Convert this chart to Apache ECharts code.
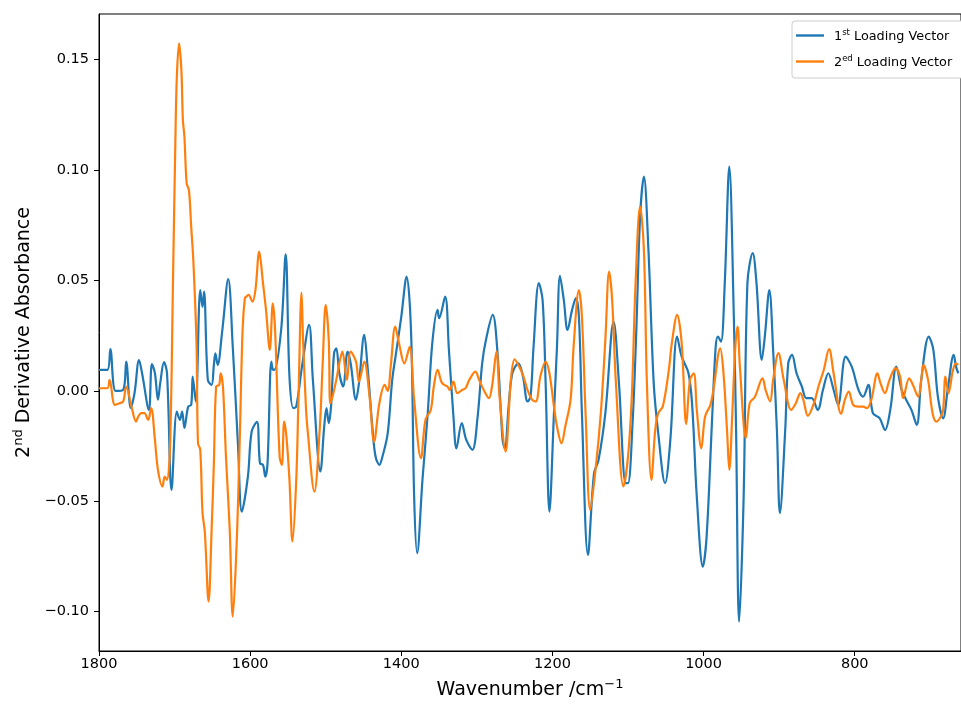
<!DOCTYPE html>
<html>
<head>
<meta charset="utf-8">
<title>Loading vectors</title>
<script src="https://cdn.jsdelivr.net/npm/echarts@6/dist/echarts.min.js"></script>
<style>
  html, body { margin: 0; padding: 0; background: #fff; }
  #chart { width: 961px; height: 705px; }
</style>
</head>
<body>
<div id="chart"></div>
<script>
// 1st loading vector: wavenumber (cm-1) / value
const wn1 = [1800, 1789, 1785, 1778, 1768, 1764, 1758, 1753, 1747, 1743, 1734, 1730, 1726, 1722, 1719, 1714, 1710, 1704, 1697, 1693,
  1690, 1687, 1682, 1678, 1676, 1672, 1666, 1663, 1661, 1656, 1651, 1648, 1646, 1643, 1637, 1629, 1623, 1616, 1611, 1603,
  1598, 1591, 1587, 1583, 1580, 1577, 1572, 1570, 1568, 1559, 1553, 1548, 1543, 1539, 1531, 1522, 1517, 1507, 1502, 1499,
  1496, 1493, 1489, 1486, 1482, 1477, 1471, 1467, 1460, 1456, 1449, 1445, 1438, 1434, 1429, 1425, 1418, 1412, 1407, 1400,
  1393, 1387, 1383, 1379, 1372, 1365, 1359, 1352, 1350, 1342, 1337, 1331, 1327, 1320, 1314, 1306, 1299, 1293, 1288, 1279,
  1273, 1266, 1263, 1258, 1253, 1245, 1239, 1233, 1229, 1225, 1218, 1213, 1209, 1204, 1198, 1194, 1190, 1185, 1180, 1174,
  1169, 1165, 1161, 1153, 1145, 1139, 1130, 1119, 1112, 1103, 1100, 1094, 1089, 1084, 1079, 1073, 1066, 1060, 1051, 1044,
  1035, 1029, 1020, 1015, 1009, 1001, 996, 989, 984, 981, 977, 972, 966, 960, 957, 953, 947, 942, 935, 930,
  923, 919, 913, 908, 903, 899, 892, 888, 883, 877, 870, 864, 857, 849, 842, 835, 828, 822, 812, 804,
  795, 789, 782, 776, 767, 760, 753, 745, 738, 732, 725, 718, 712, 702, 696, 690, 683, 677, 669, 666, 663]
const load1 = [0.0095, 0.0095, 0.0189, 0.000, 0.0005, 0.0133, -0.0077, -0.001, 0.014, 0.008, -0.0086, 0.0121, 0.008, -0.004, 0.0035, 0.013, 0.008, -0.0448, -0.0094, -0.0131,
  -0.0094, -0.0168, -0.0071, -0.0063, 0.0065, -0.0048, 0.0457, 0.038, 0.045, 0.005, 0.0027, 0.0118, 0.017, 0.0118, 0.027, 0.0506, 0.020, -0.0252, -0.0547, -0.0388,
  -0.0184, -0.014, -0.0328, -0.0335, -0.0388, -0.0328, 0.0133, 0.0097, 0.0095, 0.0276, 0.0619, 0.0065, -0.0078, -0.0071, 0.012, 0.0299, 0.005, -0.0365, -0.0161, -0.0078,
  -0.0146, -0.0071, 0.017, 0.0193, 0.008, 0.002, 0.0178, 0.0125, -0.004, 0.0035, 0.0254, 0.0125, -0.0177, -0.0298, -0.0335, -0.0298, -0.0192, 0.005, 0.017, 0.0336,
  0.0518, 0.026, -0.0479, -0.0735, -0.0403, -0.0101, 0.0216, 0.0367, 0.0329, 0.0427, 0.0186, -0.0116, -0.026, -0.0146, -0.0222, -0.0267, -0.0116, 0.0125, 0.0231, 0.0344,
  0.0186, -0.0222, -0.026, -0.0071, 0.008, 0.0125, 0.0065, -0.0048, -0.0026, 0.020, 0.0488, 0.041, 0.0035, -0.0547, -0.0101, 0.020, 0.0521, 0.0412, 0.0276, 0.0367,
  0.042, 0.0336, -0.0101, -0.0743, -0.0373, -0.0313, -0.0101, 0.0314, 0.0035, -0.0418, -0.0418, -0.0146, 0.0276, 0.079, 0.0971, 0.0639, 0.0035, -0.0192, -0.0418, -0.0222,
  0.0246, 0.0155, 0.008, -0.0071, -0.0479, -0.0796, -0.066, -0.0146, 0.020, 0.0246, 0.0223, 0.0488, 0.1016, 0.0336, -0.0177, -0.1045, -0.0479, 0.0488, 0.0624, 0.0488,
  0.014, 0.0246, 0.0457, 0.0186, -0.0177, -0.0554, -0.0177, 0.0125, 0.0163, 0.008, 0.002, -0.0033, -0.0033, -0.0086, 0.0005, 0.008, 0.0005, -0.0063, 0.0155, 0.011,
  0.0005, -0.0026, 0.0027, -0.0101, -0.0124, -0.0177, -0.0086, 0.011, 0.0005, -0.004, -0.0086, -0.0154, 0.005, 0.0246, 0.0186, -0.0026, -0.0124, 0.0005, 0.0163, 0.011, 0.008]

// 2nd loading vector
const wn2 = [1800, 1789, 1786, 1779, 1773, 1768, 1764, 1757, 1751, 1748, 1744, 1740, 1735, 1731, 1726, 1722, 1716, 1713, 1710, 1706,
  1702, 1699, 1697, 1694, 1691, 1689, 1687, 1684, 1681, 1678, 1675, 1671, 1669, 1666, 1663, 1660, 1655, 1651, 1648, 1645,
  1641, 1639, 1636, 1632, 1627, 1623, 1618, 1614, 1610, 1607, 1605, 1602, 1597, 1593, 1588, 1583, 1579, 1574, 1570, 1567,
  1561, 1558, 1555, 1552, 1548, 1544, 1539, 1536, 1532, 1530, 1526, 1524, 1515, 1508, 1504, 1500, 1496, 1494, 1491, 1486,
  1482, 1478, 1472, 1467, 1460, 1456, 1449, 1442, 1436, 1429, 1422, 1418, 1414, 1408, 1403, 1396, 1389, 1383, 1374, 1368,
  1361, 1357, 1352, 1346, 1339, 1336, 1331, 1326, 1319, 1315, 1310, 1302, 1297, 1291, 1284, 1280, 1274, 1270, 1262, 1255,
  1250, 1244, 1239, 1233, 1227, 1222, 1216, 1209, 1204, 1198, 1194, 1188, 1183, 1176, 1172, 1165, 1161, 1156, 1150, 1143,
  1136, 1130, 1125, 1121, 1116, 1106, 1100, 1095, 1090, 1084, 1079, 1075, 1069, 1064, 1060, 1054, 1046, 1042, 1035, 1029,
  1023, 1018, 1013, 1009, 1003, 998, 991, 987, 978, 974, 969, 966, 962, 958, 955, 952, 944, 939, 932, 922,
  918, 912, 908, 901, 894, 884, 878, 872, 868, 862, 854, 848, 841, 834, 828, 818, 813, 808, 802, 795,
  789, 784, 778, 770, 766, 760, 754, 746, 740, 736, 728, 723, 716, 712, 709, 703, 697, 692, 686, 683,
  680, 676, 670, 666, 663]
const load2 = [0.0012, 0.0012, 0.005, -0.0063, -0.0056, -0.0048, 0.002, -0.0071, -0.0139, -0.0116, -0.0101, -0.0101, -0.0131, -0.0078, -0.0222, -0.0358, -0.0433, -0.0388, -0.0403, -0.0252,
  0.0518, 0.1122, 0.1423, 0.1574, 0.1454, 0.1227, 0.1152, 0.094, 0.091, 0.0744, 0.0578, 0.0216, -0.0237, -0.0267, -0.0554, -0.0637, -0.0954, -0.063, -0.0328, 0.002,
  0.0027, 0.008, 0.002, -0.0298, -0.063, -0.1022, -0.0705, -0.0252, 0.0276, 0.042, 0.0427, 0.0435, 0.0404, 0.0457, 0.0631, 0.0488, 0.0367, 0.0186, 0.0397, 0.0276,
  -0.0298, -0.0335, -0.0139, -0.0207, -0.0403, -0.0682, -0.0403, -0.0026, 0.0445, 0.0231, -0.0086, -0.0177, -0.0456, -0.0177, 0.0125, 0.039, 0.0231, -0.0056, -0.0026, 0.005,
  0.0125, 0.0178, 0.005, 0.0178, 0.0133, 0.0042, 0.0133, -0.0026, -0.023, -0.0056, 0.0027, 0.000, 0.011, 0.0291, 0.0216, 0.0125, 0.020, -0.004, -0.0305, -0.0131,
  -0.0086, 0.002, 0.0095, 0.0035, 0.002, 0.0005, 0.0042, -0.001, 0.0005, 0.0012, 0.005, 0.0087, 0.005, 0.0005, -0.0033, 0.002, 0.0178, -0.0026, -0.0275, 0.005,
  0.0143, 0.011, 0.0072, 0.0005, -0.004, -0.0048, 0.0065, 0.0133, 0.008, -0.0071, -0.0161, -0.0237, -0.0161, -0.004, 0.020, 0.0457, 0.0336, -0.0116, -0.0539, -0.0358,
  -0.0101, 0.0231, 0.054, 0.0412, 0.0035, -0.0433, -0.0298, -0.0026, 0.0488, 0.0835, 0.0639, 0.0035, -0.0403, -0.0177, -0.0101, -0.0071, 0.0095, 0.0216, 0.0344, 0.0216,
  -0.015, 0.005, 0.008, -0.0086, -0.026, -0.0116, -0.0063, 0.0005, 0.0193, 0.0095, -0.0177, -0.0358, -0.0101, 0.020, 0.0291, 0.011, -0.0214, -0.0056, -0.0026, 0.0057,
  0.0005, -0.0048, 0.005, 0.0171, 0.005, -0.0086, -0.0056, -0.001, -0.004, -0.0113, -0.0056, 0.002, 0.0095, 0.0189, 0.008, -0.0104, -0.004, -0.0003, -0.0063, -0.0071,
  -0.0071, -0.0078, -0.004, 0.008, 0.0035, -0.001, 0.005, 0.0103, 0.0065, -0.0033, 0.0057, 0.0027, -0.0026, 0.005, 0.0118, 0.005, -0.0101, -0.0139, -0.0116, -0.0086,
  0.0065, -0.001, 0.0095, 0.0125, 0.0118]

const xTicks = [1800, 1600, 1400, 1200, 1000, 800]
const yTicks = [-0.10, -0.05, 0.00, 0.05, 0.10, 0.15]
const seriesNames = ['1st Loading Vector', '2ed Loading Vector']

const FONT = 'DejaVu Sans'
const chart = echarts.init(document.getElementById('chart'))

const toPairs = (xs, ys) => xs.map((x, i) => [x, ys[i]])

// superscript helpers for rich text
const supRich = (size, supSize, lh) => ({
  n: { fontFamily: FONT, fontSize: size, color: '#000', lineHeight: lh, verticalAlign: 'bottom' },
  s: { fontFamily: FONT, fontSize: supSize, color: '#000', lineHeight: supSize + 1, verticalAlign: 'top' }
})

chart.setOption({
  animation: false,
  backgroundColor: '#fff',
  grid: {
    left: 99, right: -2, top: 14, bottom: 54,
    show: true, borderColor: '#000', borderWidth: 1
  },
  legend: {
    orient: 'vertical',
    left: 792, top: 21,
    padding: [7, 40, 9, 4],
    itemGap: 11,
    itemWidth: 28, itemHeight: 2.4,
    icon: 'rect',
    backgroundColor: '#fff',
    borderColor: '#ccc', borderWidth: 1, borderRadius: 3,
    data: seriesNames,
    formatter: name => {
      const [head, ...rest] = name.split(' ')
      return '{n|' + head[0] + '}{s|' + head.slice(1) + '}{n| ' + rest.join(' ') + '}'
    },
    textStyle: { padding: [0, 0, 0, 5], rich: supRich(12.8, 8.5, 15) }
  },
  xAxis: {
    type: 'value',
    inverse: true,
    min: 659.4, max: 1800,
    name: '{n|Wavenumber /cm}{s|\u22121}',
    nameLocation: 'middle',
    nameGap: 27,
    nameTextStyle: { rich: supRich(19, 13, 22) },
    axisLine: { onZero: false, lineStyle: { color: '#000', width: 1 } },
    axisTick: { customValues: xTicks, length: 5, lineStyle: { color: '#000' } },
    axisLabel: {
      customValues: xTicks, margin: 6,
      fontFamily: FONT, fontSize: 14.5, color: '#000',
      formatter: v => String(v)
    },
    splitLine: { show: false }
  },
  yAxis: {
    type: 'value',
    min: -0.1178, max: 0.1707,
    name: '{n|2}{s|nd}{n| Derivative Absorbance}',
    nameLocation: 'middle',
    nameGap: 62,
    nameTextStyle: { rich: supRich(19, 13, 22) },
    axisLine: { onZero: false, lineStyle: { color: '#000', width: 1 } },
    axisTick: { customValues: yTicks, length: 5, lineStyle: { color: '#000' } },
    axisLabel: {
      customValues: yTicks, margin: 10,
      fontFamily: FONT, fontSize: 14.5, color: '#000',
      formatter: v => (v < 0 ? '\u2212' : '') + Math.abs(v).toFixed(2)
    },
    splitLine: { show: false }
  },
  series: [
    {
      name: seriesNames[0], type: 'line',
      data: toPairs(wn1, load1),
      showSymbol: false, symbol: 'none', smooth: 0.35,
      lineStyle: { color: '#1f77b4', width: 2.2 },
      itemStyle: { color: '#1f77b4' }
    },
    {
      name: seriesNames[1], type: 'line',
      data: toPairs(wn2, load2),
      showSymbol: false, symbol: 'none', smooth: 0.35,
      lineStyle: { color: '#ff7f0e', width: 2.2 },
      itemStyle: { color: '#ff7f0e' }
    }
  ]
})
</script>
</body>
</html>
